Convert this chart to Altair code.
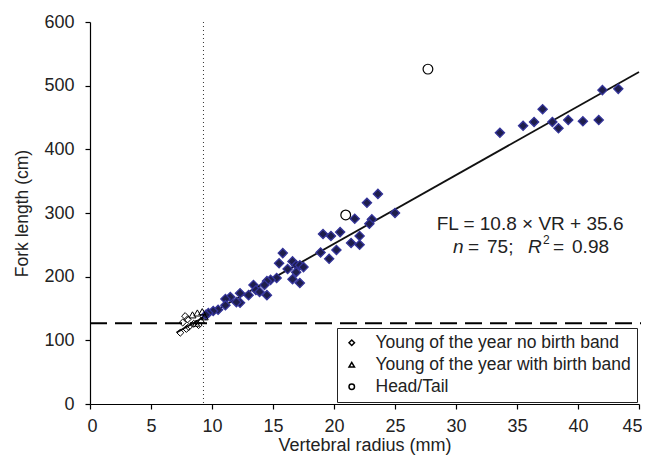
import altair as alt
import pandas as pd

# Filled diamonds (main sample)
fill_x = [33.6, 35.5, 36.4, 37.1, 37.9, 38.4, 39.2, 40.4, 41.7, 42.0, 43.3,
          25.0, 23.6, 22.7, 21.7, 23.1, 22.9, 20.5, 19.1, 19.75, 22.1, 21.4, 22.1, 18.9, 20.2, 19.6,
          15.8, 15.5, 16.6, 16.9, 17.2, 17.5, 16.2, 16.9, 16.6, 17.2, 15.3, 14.8, 14.5, 14.3,
          13.4, 13.6, 13.9, 14.5, 13.0, 12.3, 12.3, 12.0, 11.5, 11.1, 11.1, 10.5, 10.1, 9.7, 9.5]
fill_y = [426, 437, 443, 463, 443, 433, 446, 444, 446, 493, 495,
          300, 330, 316, 291, 290, 283, 270, 267, 264, 264, 253, 250, 238, 242, 228,
          237, 221, 224, 218, 218, 215, 212, 207, 196, 190, 198, 195, 193, 187,
          187, 179, 176, 171, 171, 174, 159, 160, 168, 165, 155, 148, 146, 143, 140]

# Hollow symbols (legend categories)
yoy_nb_x = [7.4, 7.8, 7.6, 8.0, 8.1, 8.5, 8.9, 7.9]
yoy_nb_y = [112, 138, 128, 133, 121, 126, 124, 118]
yoy_wb_x = [8.4, 8.8, 9.2, 8.7, 9.1, 9.4]
yoy_wb_y = [140, 143, 145, 127, 132, 137]
ht_x = [20.96, 27.7]
ht_y = [297, 526]

cat_names = ["Young of the year no birth band", "Young of the year with birth band", "Head/Tail"]

# Regression line endpoints
line_x = [7.1, 45.0]
line_y = [112.3, 521.6]

threshold_fl = 127
threshold_vr = 9.3

FONT = "Liberation Sans"
INK = "#222"

df_fill = pd.DataFrame({"x": fill_x, "y": fill_y})
cats = [cat_names[0]] * len(yoy_nb_x) + [cat_names[1]] * len(yoy_wb_x) + [cat_names[2]] * len(ht_x)
df_hollow = pd.DataFrame({
    "x": yoy_nb_x + yoy_wb_x + ht_x,
    "y": yoy_nb_y + yoy_wb_y + ht_y,
    "cat": cats,
})
df_line = pd.DataFrame({"x": line_x, "y": line_y})

xs = alt.Scale(domain=[0, 45], nice=False, zero=True)
ys = alt.Scale(domain=[0, 600], nice=False)

xax = alt.Axis(values=list(range(0, 50, 5)), grid=False, title="Vertebral radius (mm)",
               titleFontSize=18, titlePadding=1, labelFlush=True, labelFlushOffset=3,
               labelPadding=8)
yax = alt.Axis(values=list(range(0, 700, 100)), grid=False, title="Fork length (cm)",
               titleFontSize=17.5, titlePadding=12, labelFlush=False, labelPadding=11)

base_x = alt.X("x:Q", scale=xs, axis=xax)
base_y = alt.Y("y:Q", scale=ys, axis=yax)

hline = alt.Chart(pd.DataFrame({"y": [threshold_fl]})).mark_rule(
    color="black", strokeWidth=2, strokeDash=[17, 8]
).encode(y=alt.Y("y:Q", scale=ys), x=alt.value(0), x2=alt.value(551))

vline = alt.Chart(pd.DataFrame({"x": [threshold_vr]})).mark_rule(
    color="#333", strokeWidth=1, strokeDash=[1, 3]
).encode(x=alt.X("x:Q", scale=xs), y=alt.value(0), y2=alt.value(382))

reg = alt.Chart(df_line).mark_line(color="#111", strokeWidth=1.8).encode(
    x=alt.X("x:Q", scale=xs), y=alt.Y("y:Q", scale=ys)
)

filled = alt.Chart(df_fill).mark_point(
    shape="diamond", filled=True, fill="#1e1e4c", stroke="#34349a", strokeWidth=1.3,
    size=85, opacity=1
).encode(x=base_x, y=base_y)

# legend-bearing hollow layer
hollow = alt.Chart(df_hollow).mark_point(
    filled=False, color="black", strokeWidth=1, opacity=1, size=50
).encode(
    x=alt.X("x:Q", scale=xs),
    y=alt.Y("y:Q", scale=ys),
    shape=alt.Shape(
        "cat:N",
        scale=alt.Scale(domain=cat_names, range=["diamond", "triangle-up", "circle"]),
        title=None,
        legend=alt.Legend(
            orient="bottom-right", offset=2,
            strokeColor=INK, padding=6, fillColor="white",
            labelFontSize=17.5, labelColor=INK, labelFont=FONT,
            symbolSize=30, rowPadding=3, labelOffset=15, labelLimit=400,
        ),
    ),
)

# larger circles for head/tail specimens drawn on top
big_circles = alt.Chart(pd.DataFrame({"x": ht_x, "y": ht_y})).mark_point(
    shape="circle", filled=True, fill="white", stroke="black", strokeWidth=1.2, size=95, opacity=1
).encode(x=alt.X("x:Q", scale=xs), y=alt.Y("y:Q", scale=ys))

EQ_X = 36.07
eq1 = alt.Chart(pd.DataFrame({"x": [EQ_X], "y": [283]})).mark_text(
    text="FL = 10.8 \u00d7 VR + 35.6", fontSize=19, font=FONT, color=INK,
    align="center", baseline="middle"
).encode(x=alt.X("x:Q", scale=xs), y=alt.Y("y:Q", scale=ys))

# second line in pieces (italic n and R, superscript 2)
pieces = [
    ("n", "italic", 19, -77, 0),
    ("=", "normal", 19, -62, 0),
    ("75;", "normal", 19, -43, 0),
    ("R", "italic", 19, -2, 0),
    ("2", "normal", 12, 13, -7),
    ("=", "normal", 19, 23, 0),
    ("0.98", "normal", 19, 42, 0),
]
eq2_layers = []
for txt, style, fs, dx, dy in pieces:
    eq2_layers.append(
        alt.Chart(pd.DataFrame({"x": [EQ_X], "y": [247]})).mark_text(
            text=txt, fontSize=fs, fontStyle=style, font=FONT, color=INK,
            align="left", baseline="middle", dx=dx, dy=dy
        ).encode(x=alt.X("x:Q", scale=xs), y=alt.Y("y:Q", scale=ys))
    )

chart = alt.layer(hline, vline, reg, filled, hollow, big_circles, eq1, *eq2_layers).properties(
    width=549, height=382,
    autosize=alt.AutoSizeParams(type="none"),
    padding={"left": 82, "top": 14, "right": 3, "bottom": 51},
).configure_view(stroke=None).configure_axis(
    labelFont=FONT, titleFont=FONT,
    labelFontSize=18, titleFontWeight="normal",
    labelColor=INK, titleColor=INK,
    domainColor="black", tickColor="black", domainWidth=1.2, tickWidth=1.2,
    tickSize=5,
)

chart.save("out.html", embed_options={"renderer": "svg", "actions": False})
